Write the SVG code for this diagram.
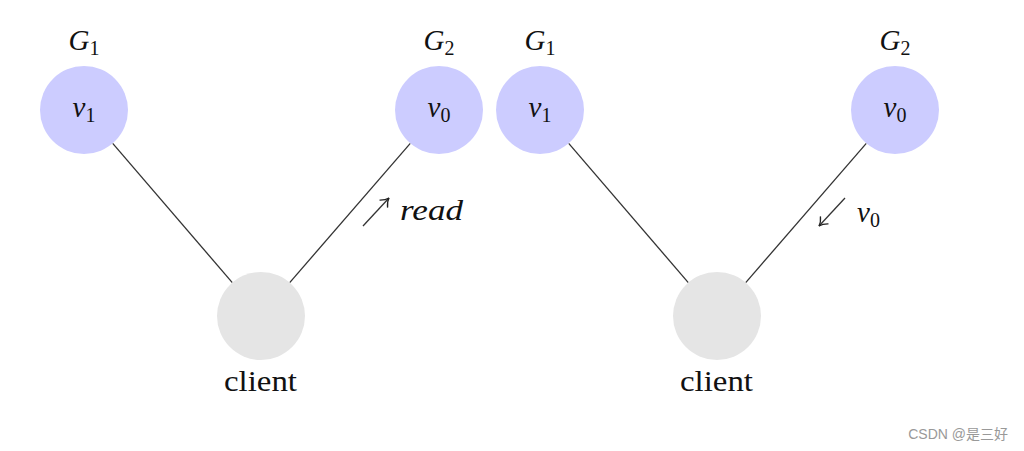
<svg xmlns="http://www.w3.org/2000/svg" width="1024" height="451" viewBox="0 0 1024 451">
<style>
.g{fill:#ccccff}
.c{fill:#e5e5e5}
.t{font-family:"Liberation Serif",serif;font-size:29px;fill:#111}
.i{font-style:italic}
.s{font-size:20px;font-style:normal}
.ln{stroke:#333;stroke-width:1.3;fill:none}
.wm{font-family:"Liberation Sans","Noto Sans CJK SC",sans-serif;font-size:14px;fill:#999}
</style>
<defs>
<marker id="ah" markerWidth="14" markerHeight="14" refX="10" refY="7" orient="auto" markerUnits="userSpaceOnUse">
<path d="M2,1.5 Q6,6 10,7 Q6,8 2,12.5" stroke="#222" stroke-width="1.3" fill="none"/>
</marker>
</defs>
<rect width="1024" height="451" fill="#fff"/>
<g id="connectors">
<line class="ln" x1="112.7" y1="143.4" x2="232.3" y2="282.6"/>
<line class="ln" x1="410.3" y1="143.4" x2="289.7" y2="282.6"/>
<line class="ln" x1="568.7" y1="143.4" x2="688.3" y2="282.6"/>
<line class="ln" x1="866.3" y1="143.4" x2="745.7" y2="282.6"/>
<line class="ln" x1="363" y1="226" x2="389" y2="198" marker-end="url(#ah)"/>
<text class="t i" x="400" y="220" textLength="63" lengthAdjust="spacingAndGlyphs">read</text>
<line class="ln" x1="845" y1="198" x2="819" y2="226" marker-end="url(#ah)"/>
<text class="t i" x="857" y="222">v<tspan class="s" dy="5">0</tspan></text>
</g>
<g id="left-v1">
<text class="t i" x="84" y="50" text-anchor="middle">G<tspan class="s" dy="5">1</tspan></text>
<circle class="g" cx="84" cy="110" r="44"/>
<text class="t i" x="84" y="117" text-anchor="middle">v<tspan class="s" dy="5">1</tspan></text>
</g>
<g id="left-v0">
<text class="t i" x="439" y="50" text-anchor="middle">G<tspan class="s" dy="5">2</tspan></text>
<circle class="g" cx="439" cy="110" r="44"/>
<text class="t i" x="439" y="117" text-anchor="middle">v<tspan class="s" dy="5">0</tspan></text>
</g>
<g id="left-client">
<circle class="c" cx="261" cy="316" r="44"/>
<text class="t" x="224" y="391" textLength="73" lengthAdjust="spacingAndGlyphs">client</text>
</g>
<g id="right-v1">
<text class="t i" x="540" y="50" text-anchor="middle">G<tspan class="s" dy="5">1</tspan></text>
<circle class="g" cx="540" cy="110" r="44"/>
<text class="t i" x="540" y="117" text-anchor="middle">v<tspan class="s" dy="5">1</tspan></text>
</g>
<g id="right-v0">
<text class="t i" x="895" y="50" text-anchor="middle">G<tspan class="s" dy="5">2</tspan></text>
<circle class="g" cx="895" cy="110" r="44"/>
<text class="t i" x="895" y="117" text-anchor="middle">v<tspan class="s" dy="5">0</tspan></text>
</g>
<g id="right-client">
<circle class="c" cx="717" cy="316" r="44"/>
<text class="t" x="680" y="391" textLength="73" lengthAdjust="spacingAndGlyphs">client</text>
</g>
<text class="wm" x="1008" y="439" text-anchor="end">CSDN @是三好</text>
</svg>
